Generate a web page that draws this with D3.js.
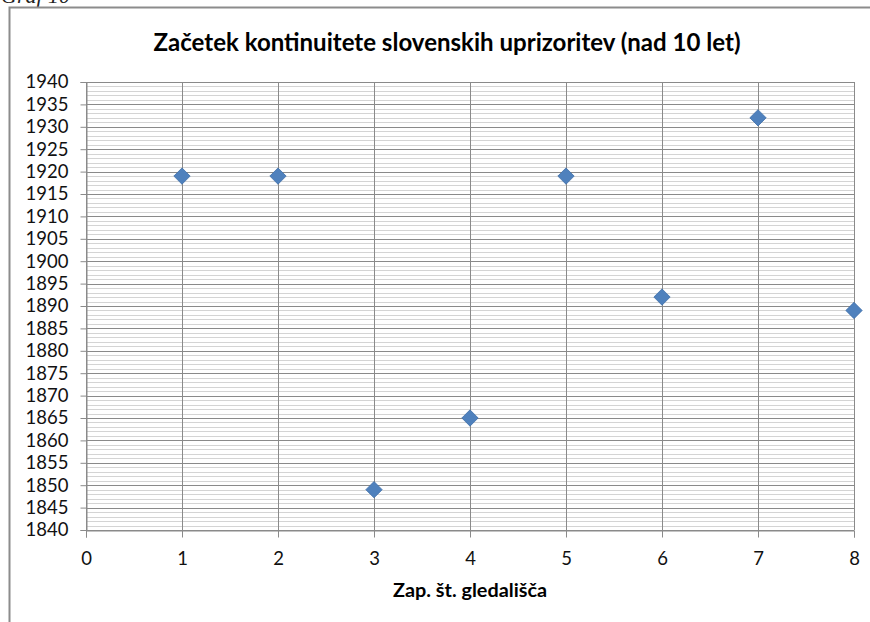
<!DOCTYPE html>
<html><head><meta charset="utf-8">
<script src="https://cdn.jsdelivr.net/npm/d3@7"></script>
<style>body{margin:0;background:#fff}svg{display:block}</style>
</head><body>
<script>
const theatres = [1, 2, 3, 4, 5, 6, 7, 8];
const startYears = [1919, 1919, 1849, 1865, 1919, 1892, 1932, 1889];
const xTicks = [0, 1, 2, 3, 4, 5, 6, 7, 8];
const yTicks = d3.range(1840, 1941, 5);
const yMinor = d3.range(1840, 1941, 1);

const W = 870, H = 622;
const svg = d3.select("body").append("svg").attr("width", W).attr("height", H);
const font = "Lato, 'Open Sans', sans-serif";

// caption, cut off at the top as in the source image
svg.append("text").attr("x", 1).attr("y", 3).attr("font-family", "'Liberation Serif', serif")
  .attr("font-style", "italic").attr("font-size", 22).attr("fill", "#222").text("Graf 10");

// chart frame
svg.append("path").attr("d", `M9.5,${H + 5} L9.5,7.5 L${W + 5},7.5`).attr("fill", "none")
  .attr("stroke", "#8c8c8c").attr("stroke-width", 2);

const x = d3.scaleLinear().domain([0, 8]).range([86, 854]);
const y = d3.scaleLinear().domain([1840, 1940]).range([530, 82]);

// minor grid
svg.append("g").selectAll("line").data(yMinor.filter(d => d % 5 !== 0)).join("line")
  .attr("x1", x(0)).attr("x2", x(8)).attr("y1", d => Math.round(y(d)) + 0.5).attr("y2", d => Math.round(y(d)) + 0.5)
  .attr("stroke", "#d4d4d4").attr("stroke-width", 1);
// major grid
svg.append("g").selectAll("line").data(yTicks).join("line")
  .attr("x1", x(0)).attr("x2", x(8)).attr("y1", d => Math.round(y(d)) + 0.5).attr("y2", d => Math.round(y(d)) + 0.5)
  .attr("stroke", "#8a8a8a").attr("stroke-width", 1);
svg.append("g").selectAll("line").data(xTicks).join("line")
  .attr("y1", y(1940)).attr("y2", y(1840)).attr("x1", d => Math.round(x(d)) + 0.5).attr("x2", d => Math.round(x(d)) + 0.5)
  .attr("stroke", "#8a8a8a").attr("stroke-width", 1);

// axes
const yAxis = svg.append("g").attr("transform", `translate(${x(0) + 0.5},0)`)
  .call(d3.axisLeft(y).tickValues(yTicks).tickFormat(d3.format("d")).tickSize(6).tickPadding(12));
const xAxis = svg.append("g").attr("transform", `translate(0,${y(1840) + 0.5})`)
  .call(d3.axisBottom(x).tickValues(xTicks).tickFormat(d3.format("d")).tickSize(7).tickPadding(14));
[yAxis, xAxis].forEach(g => {
  g.select(".domain").attr("stroke", "#8a8a8a");
  g.selectAll(".tick line").attr("stroke", "#8a8a8a");
  g.selectAll(".tick text").attr("font-family", font).attr("font-size", 18.5).attr("fill", "#111");
});

// markers
const diamond = d3.symbol().type(d3.symbolDiamond2).size(170);
svg.append("g").selectAll("path").data(theatres).join("path")
  .attr("d", diamond)
  .attr("transform", (d, i) => `translate(${x(d)},${y(startYears[i])})`)
  .attr("fill", "#4f81bd").attr("stroke", "#3f6fa8").attr("stroke-width", 0.8);

// title
svg.append("text").attr("x", 447).attr("y", 51).attr("text-anchor", "middle")
  .attr("font-family", font).attr("font-weight", "bold").attr("font-size", 24).attr("fill", "#000")
  .attr("textLength", 587).attr("lengthAdjust", "spacingAndGlyphs")
  .text("Začetek kontinuitete slovenskih uprizoritev (nad 10 let)");

// x axis title
svg.append("text").attr("x", 470).attr("y", 597).attr("text-anchor", "middle")
  .attr("font-family", font).attr("font-weight", "bold").attr("font-size", 18).attr("fill", "#000")
  .attr("textLength", 154).attr("lengthAdjust", "spacingAndGlyphs")
  .text("Zap. št. gledališča");
</script>
</body></html>
